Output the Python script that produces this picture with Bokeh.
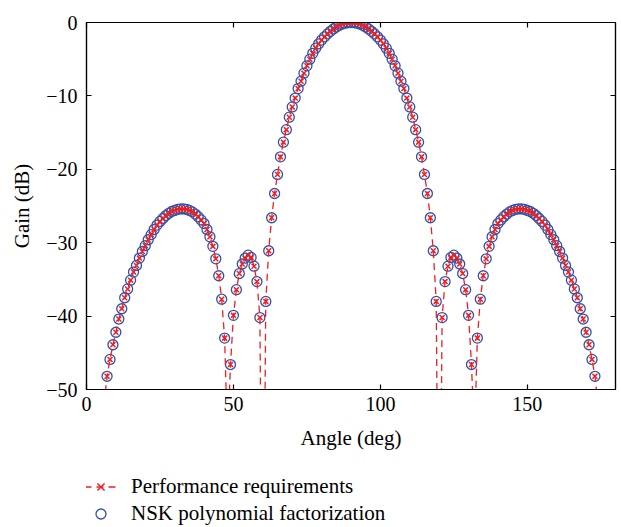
from bokeh.plotting import figure
from bokeh.layouts import column
from bokeh.models import Range1d, LinearAxis, FixedTicker, Legend, LegendItem
from bokeh.embed import file_html
from bokeh.resources import INLINE

# ---- data ----
angles = list(range(6, 175))
required_gain = [
    -52.0, -48.2, -45.9, -43.9, -42.2, -40.4, -39.0, -37.5, -36.3, -35.1,   # 6-15
    -34.0, -33.1, -32.1, -31.2, -30.4, -29.6, -28.9, -28.2, -27.6, -27.1,   # 16-25
    -26.7, -26.3, -26.0, -25.75, -25.6, -25.45, -25.4, -25.4, -25.45, -25.6,  # 26-35
    -25.8, -26.1, -26.45, -26.9, -27.4, -28.2, -29.2, -30.5, -32.2, -34.5,  # 36-45
    -37.7, -43.0, -57.0, -46.6, -39.9, -36.4, -34.2, -32.9, -32.1, -31.7,   # 46-55
    -32.0, -33.2, -35.3, -40.2, -90.0, -38.0, -31.1, -26.6, -23.3, -20.7,   # 56-65
    -18.3, -16.3, -14.6, -12.9, -11.5, -10.3, -9.0, -8.0, -6.9, -5.9,       # 66-75
    -5.0, -4.2, -3.5, -2.9, -2.4, -1.95, -1.55, -1.2, -0.88, -0.6,          # 76-85
    -0.38, -0.21, -0.09, -0.02, 0.0, -0.02, -0.09, -0.21, -0.38, -0.6,      # 86-95
    -0.88, -1.2, -1.55, -1.95, -2.4, -2.9, -3.5, -4.2, -5.0, -5.9,          # 96-105
    -6.9, -8.0, -9.0, -10.3, -11.5, -12.9, -14.6, -16.3, -18.3, -20.7,      # 106-115
    -23.3, -26.6, -31.1, -38.0, -90.0, -40.2, -35.3, -33.2, -32.0, -31.7,   # 116-125
    -32.1, -32.9, -34.2, -36.4, -39.9, -46.6, -57.0, -43.0, -37.7, -34.5,   # 126-135
    -32.2, -30.5, -29.2, -28.2, -27.4, -26.9, -26.45, -26.1, -25.8, -25.6,  # 136-145
    -25.45, -25.4, -25.4, -25.45, -25.6, -25.75, -26.0, -26.3, -26.7, -27.1,  # 146-155
    -27.6, -28.2, -28.9, -29.6, -30.4, -31.2, -32.1, -33.1, -34.0, -35.1,   # 156-165
    -36.3, -37.5, -39.0, -40.4, -42.2, -43.9, -45.9, -48.2, -52.0,          # 166-174
]
# the NSK factorization reproduces the requirement point for point
nsk_gain = list(required_gain)

x_ticks = [0, 50, 100, 150]
y_ticks = [-50, -40, -30, -20, -10, 0]
y_tick_labels = ["\u221250", "\u221240", "\u221230", "\u221220", "\u221210", "0"]
legend_labels = ["Performance requirements", "NSK polynomial factorization"]

FONT = "Liberation Serif"
RED = "#f01e1e"
BLUE = "#3350a8"

p = figure(frame_width=529, frame_height=367,
           min_border_left=86, min_border_right=6, min_border_top=22, min_border_bottom=70,
           x_range=Range1d(0, 180), y_range=Range1d(-50, 0),
           output_backend="svg", toolbar_location=None, tools="")
p.xgrid.visible = False
p.ygrid.visible = False
p.outline_line_color = "black"
p.outline_line_width = 1.2
p.background_fill_color = "white"
p.border_fill_color = "white"

def style_axis(ax, ticks, show_labels=True):
    ax.ticker = FixedTicker(ticks=ticks)
    ax.minor_tick_line_color = None
    ax.major_tick_in = 5
    ax.major_tick_out = 0
    ax.axis_line_color = "black"
    ax.axis_line_width = 1.2
    ax.major_tick_line_color = "black"
    ax.major_tick_line_width = 1.2
    ax.major_label_text_font = FONT
    ax.major_label_text_color = "black"
    ax.axis_label_text_font = FONT
    ax.axis_label_text_font_style = "normal"
    ax.axis_label_text_color = "black"
    if show_labels:
        ax.major_label_text_font_size = "20px"
        ax.axis_label_text_font_size = "21px"
    else:
        ax.major_label_text_font_size = "0px"
        ax.major_label_standoff = 0

xa = p.xaxis[0]
style_axis(xa, x_ticks)
xa.axis_label = "Angle (deg)"
xa.major_label_standoff = 7
xa.axis_label_standoff = 12

ya = p.yaxis[0]
style_axis(ya, y_ticks)
ya.axis_label = "Gain (dB)"
ya.major_label_overrides = dict(zip(y_ticks, y_tick_labels))
ya.major_label_standoff = 9
ya.axis_label_standoff = 9

top = LinearAxis()
style_axis(top, x_ticks, show_labels=False)
p.add_layout(top, "above")
right = LinearAxis()
style_axis(right, y_ticks, show_labels=False)
p.add_layout(right, "right")

def draw_series(fig):
    c = fig.scatter(angles, nsk_gain, marker="circle", size=10, fill_color=None,
                    line_color=BLUE, line_width=1.3)
    l = fig.line(angles, required_gain, line_color=RED, line_width=1.3, line_dash="7 5")
    x = fig.scatter(angles, required_gain, marker="x", size=7, line_color=RED, line_width=1.5)
    return c, l, x

draw_series(p)

# ---- legend strip below the axes: same series, range chosen so only the legend shows ----
lg = figure(frame_width=529, frame_height=68,
            min_border_left=86, min_border_right=6, min_border_top=0, min_border_bottom=0,
            x_range=Range1d(0, 180), y_range=Range1d(1, 2),
            x_axis_location=None, y_axis_location=None,
            output_backend="svg", toolbar_location=None, tools="")
lg.grid.visible = False
lg.outline_line_color = None
lg.background_fill_color = "white"
lg.border_fill_color = "white"
r_c, r_ln, r_x = draw_series(lg)

legend = Legend(items=[
    LegendItem(label=legend_labels[0], renderers=[r_ln, r_x]),
    LegendItem(label=legend_labels[1], renderers=[r_c]),
], location=(-2, 1))
legend.border_line_color = None
legend.background_fill_alpha = 0
legend.padding = 0
legend.margin = 0
legend.spacing = 2
legend.glyph_width = 33
legend.glyph_height = 25
legend.label_height = 25
legend.label_standoff = 14
legend.label_text_font = FONT
legend.label_text_font_size = "21px"
legend.label_text_color = "black"
lg.add_layout(legend, "center")

page = column(p, lg, spacing=0)
open("out.html", "w").write(file_html(page, INLINE))
